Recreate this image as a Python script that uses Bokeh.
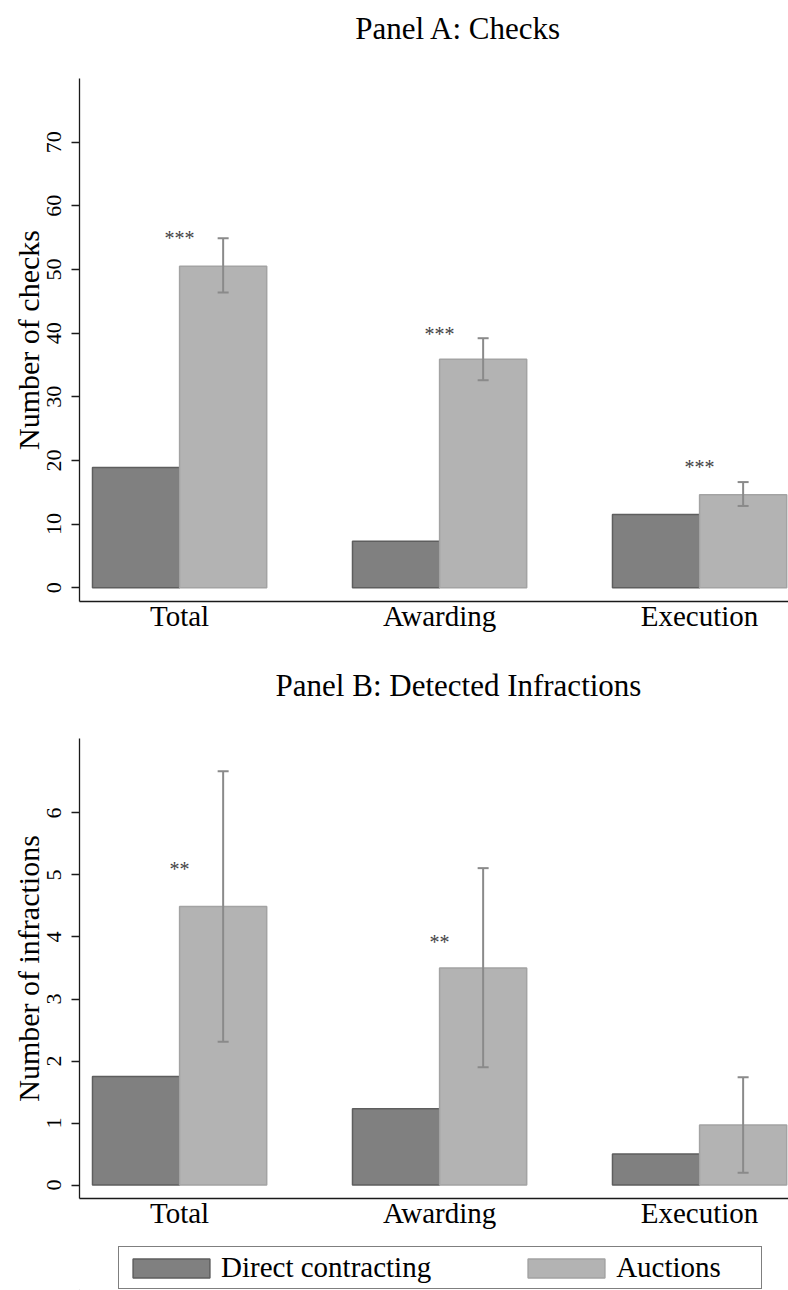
from bokeh.plotting import figure
from bokeh.models import (ColumnDataSource, Whisker, TeeHead, Legend, LegendItem,
                          FixedTicker, Range1d)
from bokeh.layouts import column
from bokeh.embed import file_html
from bokeh.resources import INLINE
from bokeh.core.properties import value

FONT = "Liberation Serif"
W = 788
LEFT = 79  # frame left edge (frames are aligned across the column)

# ---------------- data ----------------
categories = ["Total", "Awarding", "Execution"]
series_names = ["Direct contracting", "Auctions"]
panel_titles = ["Panel A: Checks", "Panel B: Detected Infractions"]
y_labels = ["Number of checks", "Number of infractions"]

checks_direct = [18.9, 7.3, 11.5]
checks_auction = [50.5, 35.9, 14.6]
checks_ci_low = [46.4, 32.6, 12.85]
checks_ci_high = [54.9, 39.2, 16.6]
checks_stars = ["***", "***", "***"]
checks_star_y = [55.3, 40.2, 19.35]
checks_ticks = [0, 10, 20, 30, 40, 50, 60, 70]

inf_direct = [1.75, 1.23, 0.50]
inf_auction = [4.49, 3.50, 0.97]
inf_ci_low = [2.31, 1.90, 0.20]
inf_ci_high = [6.67, 5.11, 1.74]
inf_stars = ["**", "**", ""]
inf_star_y = [5.13, 3.95, 0.0]
inf_ticks = [0, 1, 2, 3, 4, 5, 6]

# ---------------- style ----------------
DARK_FILL = "#808080"
DARK_LINE = "#5e5e5e"
LIGHT_FILL = "#b3b3b3"
LIGHT_LINE = "#a3a3a3"
ERR_COLOR = "#8a8a8a"
AXIS_COLOR = "#1a1a1a"
BAR_W = 0.335
OFF = BAR_W / 2


def blank_fig(height):
    # data units equal page pixels horizontally and pixels from bottom vertically
    p = figure(width=W, height=height, output_backend="svg", toolbar_location=None,
               x_axis_type=None, y_axis_type=None,
               x_range=Range1d(LEFT, W), y_range=Range1d(0, height),
               min_border_left=LEFT, min_border_right=0,
               min_border_top=0, min_border_bottom=0)
    p.outline_line_color = None
    p.grid.visible = False
    return p


def title_fig(text, height, cx, cy_from_top):
    p = blank_fig(height)
    src = ColumnDataSource(dict(x=[cx], y=[height - cy_from_top], t=[text]))
    p.text(x="x", y="y", text="t", source=src, text_align="center",
           text_baseline="middle", text_font=value(FONT), text_font_size="31px",
           text_color="black")
    return p


def make_panel(ylabel, direct, auction, lo, hi, stars, star_y,
               ticks, yr, height, border_top, border_bottom):
    idx = list(range(len(categories)))
    src = ColumnDataSource(dict(
        x=idx,
        x_dir=[i - OFF for i in idx],
        x_auc=[i + OFF for i in idx],
        direct=direct, auction=auction, lo=lo, hi=hi,
        stars=stars, star_y=star_y,
    ))
    p = figure(width=W, height=height, output_backend="svg", toolbar_location=None,
               x_range=Range1d(-0.385, 2.342), y_range=Range1d(*yr),
               min_border_left=LEFT, min_border_right=0,
               min_border_top=border_top, min_border_bottom=border_bottom)
    p.outline_line_color = None
    p.grid.visible = False

    p.vbar(x="x_dir", top="direct", bottom=0, width=BAR_W, source=src,
           fill_color=DARK_FILL, line_color=DARK_LINE, line_width=1.5)
    p.vbar(x="x_auc", top="auction", bottom=0, width=BAR_W, source=src,
           fill_color=LIGHT_FILL, line_color=LIGHT_LINE, line_width=1.5)

    w = Whisker(source=src, base="x_auc", lower="lo", upper="hi",
                line_color=ERR_COLOR, line_width=2,
                upper_head=TeeHead(size=11, line_color=ERR_COLOR, line_width=2),
                lower_head=TeeHead(size=11, line_color=ERR_COLOR, line_width=2))
    w.level = "overlay"
    p.add_layout(w)

    p.text(x="x", y="star_y", text="stars", source=src, text_align="center",
           text_baseline="middle", text_font=value(FONT), text_font_size="20px",
           text_color="#444444", y_offset=2)

    # x axis
    xa = p.xaxis[0]
    xa.ticker = FixedTicker(ticks=idx)
    xa.major_label_overrides = {i: c for i, c in enumerate(categories)}
    xa.major_tick_out = 0
    xa.major_tick_in = 0
    xa.minor_tick_line_color = None
    xa.major_label_standoff = -2
    xa.major_label_text_font = FONT
    xa.major_label_text_font_size = "29px"
    xa.major_label_text_color = "black"
    xa.axis_line_color = AXIS_COLOR
    xa.axis_line_width = 1.3

    # y axis
    ya = p.yaxis[0]
    ya.ticker = FixedTicker(ticks=ticks)
    ya.major_label_orientation = "vertical"
    ya.major_tick_out = 8
    ya.major_tick_in = 0
    ya.minor_tick_line_color = None
    ya.major_tick_line_color = AXIS_COLOR
    ya.major_tick_line_width = 1.3
    ya.major_label_standoff = 10
    ya.major_label_text_font = FONT
    ya.major_label_text_font_size = "22px"
    ya.major_label_text_color = "black"
    ya.axis_line_color = AXIS_COLOR
    ya.axis_line_width = 1.3
    ya.axis_label = ylabel
    ya.axis_label_text_font = FONT
    ya.axis_label_text_font_size = "30px"
    ya.axis_label_text_font_style = "normal"
    ya.axis_label_text_color = "black"
    ya.axis_label_standoff = 0
    return p


tA = title_fig(panel_titles[0], 60, 458, 28)
pA = make_panel(y_labels[0], checks_direct, checks_auction, checks_ci_low, checks_ci_high,
                checks_stars, checks_star_y, checks_ticks, (-2.16, 80.0),
                588, 18, 47)

tB = title_fig(panel_titles[1], 70, 458, 37)
pB = make_panel(y_labels[1], inf_direct, inf_auction, inf_ci_low, inf_ci_high,
                inf_stars, inf_star_y, inf_ticks, (-0.216, 7.2),
                520, 20, 40)

# legend strip (proxy renderers sit outside the visible range)
pL = blank_fig(52)
leg_src = ColumnDataSource(dict(x=[0], top=[0]))
r1 = pL.vbar(x="x", top="top", width=0, source=leg_src,
             fill_color=DARK_FILL, line_color=DARK_LINE, line_width=1.5)
r2 = pL.vbar(x="x", top="top", width=0, source=leg_src,
             fill_color=LIGHT_FILL, line_color=LIGHT_LINE, line_width=1.5)
legend = Legend(items=[LegendItem(label=series_names[0], renderers=[r1]),
                       LegendItem(label=series_names[1], renderers=[r2])],
                orientation="horizontal", location=(118 - LEFT, 1),
                glyph_width=96, glyph_height=24, label_standoff=2, spacing=87,
                padding=4, margin=0, label_width=141,
                label_text_font=FONT, label_text_font_size="29px",
                label_text_color="black",
                border_line_color="black", border_line_width=1.2,
                background_fill_color="white", background_fill_alpha=1.0)
pL.add_layout(legend)

layout = column(tA, pA, tB, pB, pL, spacing=0)
open("out.html", "w").write(file_html(layout, INLINE))
